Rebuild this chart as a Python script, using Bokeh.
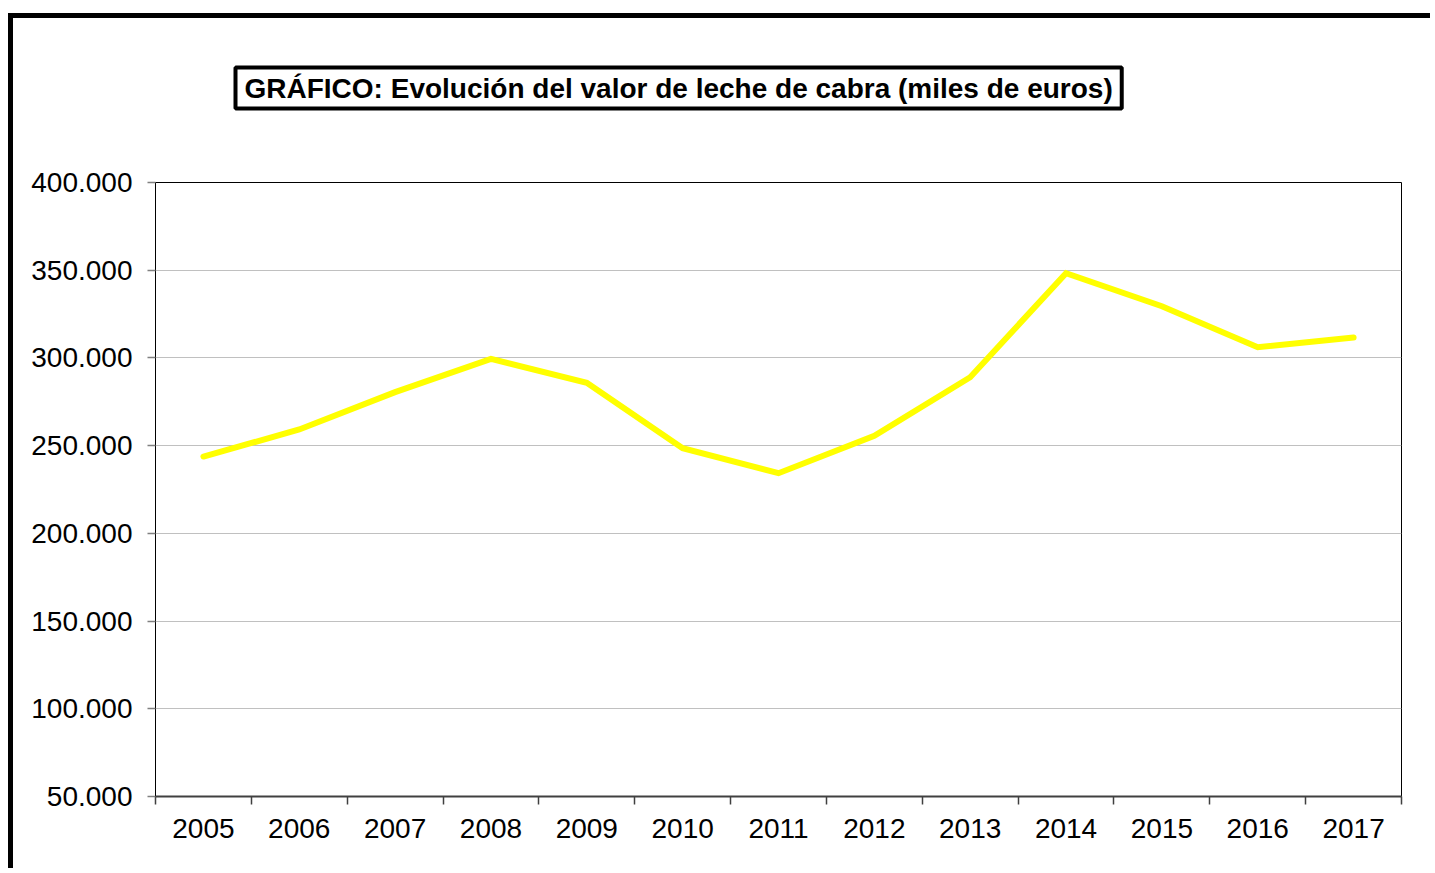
from bokeh.plotting import figure
from bokeh.models import Range1d, FixedTicker, Title
from bokeh.embed import file_html
from bokeh.resources import INLINE

# ---- data ----
years = ["2005", "2006", "2007", "2008", "2009", "2010", "2011",
         "2012", "2013", "2014", "2015", "2016", "2017"]
values = [243800, 259200, 280500, 299500, 285800, 248500, 234300,
          255600, 289000, 348300, 329500, 306100, 311700]
y_ticks = [50000, 100000, 150000, 200000, 250000, 300000, 350000, 400000]
y_tick_labels = ["50.000", "100.000", "150.000", "200.000",
                 "250.000", "300.000", "350.000", "400.000"]
title_text = "GRÁFICO: Evolución del valor de leche de cabra (miles de euros)"

FONT = "Liberation Sans"
W, H = 1417, 850

p = figure(width=W, height=H, output_backend="svg", toolbar_location=None,
           x_range=Range1d(0, len(years)), y_range=Range1d(y_ticks[0], y_ticks[-1]),
           min_border_left=142, min_border_right=34,
           min_border_top=164, min_border_bottom=77)

# outer chart border (left and top edges of the chart area)
p.styles = {"border-left": "5px solid black", "border-top": "5px solid black",
            "margin-left": "8px", "margin-top": "13px",
            "box-sizing": "content-box"}

p.background_fill_color = "white"
p.border_fill_color = "white"
p.outline_line_color = "black"
p.outline_line_width = 1

xs = [i + 0.5 for i in range(len(years))]
p.line(xs, values, line_color="#FFFF00", line_width=6,
       line_cap="round", line_join="miter")

# x axis: labels at category centers, tick marks at category boundaries
xa = p.xaxis[0]
xa.ticker = FixedTicker(ticks=xs, minor_ticks=list(range(len(years) + 1)))
xa.major_label_overrides = {x: y for x, y in zip(xs, years)}
xa.major_tick_line_color = None
xa.major_tick_out = 0
xa.major_tick_in = 0
xa.minor_tick_line_color = "#404040"
xa.minor_tick_line_width = 1.5
xa.minor_tick_out = 8
xa.minor_tick_in = 0
xa.axis_line_color = "#404040"
xa.axis_line_width = 2
xa.major_label_text_font = FONT
xa.major_label_text_font_size = "28px"
xa.major_label_text_color = "black"
xa.major_label_standoff = 14

ya = p.yaxis[0]
ya.ticker = FixedTicker(ticks=y_ticks, minor_ticks=[])
ya.major_label_overrides = {t: s for t, s in zip(y_ticks, y_tick_labels)}
ya.major_tick_out = 8
ya.major_tick_in = 0
ya.major_tick_line_color = "#808080"
ya.major_tick_line_width = 1.5
ya.minor_tick_line_color = None
ya.axis_line_color = "black"
ya.major_label_text_font = FONT
ya.major_label_text_font_size = "28px"
ya.major_label_text_color = "black"
ya.major_label_standoff = 15

p.xgrid.visible = False
p.ygrid.ticker = FixedTicker(ticks=y_ticks, minor_ticks=[])
p.ygrid.grid_line_color = "#c0c0c0"
p.ygrid.grid_line_width = 1

# spacer between frame and boxed title, then the boxed title
p.add_layout(Title(text=" ", text_font_size="1px", standoff=71), "above")
p.add_layout(Title(text=title_text, align="left", offset=80, standoff=0,
                   text_font=FONT, text_font_size="28px", text_font_style="bold",
                   text_color="black", border_line_color="black", border_line_width=4,
                   background_fill_color="white",
                   padding=dict(left=9, right=9, top=5, bottom=5)), "above")

open("out.html", "w", encoding="utf-8").write(file_html(p, INLINE))
